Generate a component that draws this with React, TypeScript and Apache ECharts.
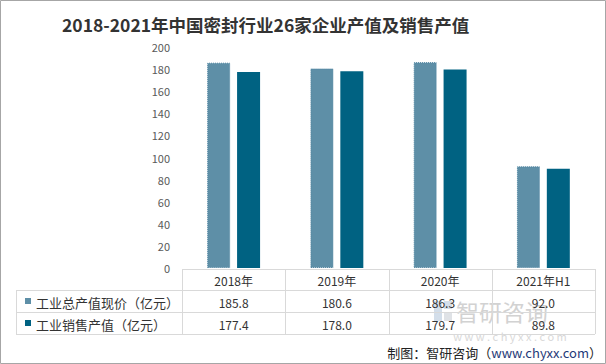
import React, { useEffect, useRef } from "react";
import * as echarts from "echarts";

const categories = ["2018年", "2019年", "2020年", "2021年H1"];
const seriesNames = ["工业总产值现价（亿元）", "工业销售产值（亿元）"];
const totalOutput = [185.8, 180.6, 186.3, 92.0];
const salesOutput = [177.4, 178.0, 179.7, 89.8];
const colors = ["#5E8FA7", "#006282"];
const titleText = "2018-2021年中国密封行业26家企业产值及销售产值";

const W = 606;
const H = 364;
const GL = 182;
const GR = 595;
const GT = 47;
const GB = 268;
const ROWS = [269, 290, 312, 334];
const TABLE_LEFT = 16;
const FONT = "'Noto Sans CJK SC', 'Noto Sans', sans-serif";

export default function App() {
  const ref = useRef<HTMLDivElement>(null);
  useEffect(() => {
    document.body.style.margin = "0";
    const chart = echarts.init(ref.current!, null, { renderer: "svg" });
    const colW = (GR - GL) / categories.length;
    const lineStyle = { stroke: "#D9D9D9", lineWidth: 1 };
    const g: any[] = [];
    // watermark (behind)
    g.push({ type: "rect", z: 1, shape: { x: 434, y: 301, width: 8, height: 20 }, style: { fill: "#D3DEEA" } });
    g.push({ type: "rect", z: 1, shape: { x: 444, y: 301, width: 8, height: 8 }, style: { fill: "#D3DEEA" } });
    g.push({ type: "rect", z: 1, shape: { x: 444, y: 312, width: 8, height: 9 }, style: { fill: "#DFE2E6" } });
    g.push({ type: "text", z: 1, x: 456, y: 311, style: { text: "智研咨询", fill: "#D2D2D2", font: `23px ${FONT}`, align: "left", verticalAlign: "middle" } });
    g.push({ type: "text", z: 1, x: 510, y: 336, style: { text: "w w w . c h y x x . c o m", fill: "#D8D8D8", font: `11px ${FONT}`, align: "center", verticalAlign: "middle" } });
    // outer frame
    g.push({ type: "rect", z: 5, shape: { x: 0.5, y: 0.5, width: W - 1, height: H - 1 }, style: { fill: "none", stroke: "#A6A6A6", lineWidth: 1 }, silent: true });
    // table lines
    g.push({ type: "line", z: 5, shape: { x1: GL, y1: ROWS[0] + 0.5, x2: GR, y2: ROWS[0] + 0.5 }, style: lineStyle });
    for (let r = 1; r < ROWS.length; r++) {
      g.push({ type: "line", z: 5, shape: { x1: TABLE_LEFT, y1: ROWS[r] + 0.5, x2: GR, y2: ROWS[r] + 0.5 }, style: lineStyle });
    }
    g.push({ type: "line", z: 5, shape: { x1: TABLE_LEFT + 0.5, y1: ROWS[1], x2: TABLE_LEFT + 0.5, y2: ROWS[3] }, style: lineStyle });
    for (let i = 0; i <= categories.length; i++) {
      const x = Math.round(GL + i * colW) + 0.5;
      g.push({ type: "line", z: 5, shape: { x1: x, y1: ROWS[0], x2: x, y2: ROWS[3] }, style: lineStyle });
    }
    // header + values
    const rowsData = [totalOutput, salesOutput];
    categories.forEach((c, i) => {
      const cx = GL + (i + 0.5) * colW;
      g.push({ type: "text", z: 10, x: cx, y: (ROWS[0] + ROWS[1]) / 2 + 1, style: { text: c, fill: "#333", font: `12px ${FONT}`, align: "center", verticalAlign: "middle" } });
      rowsData.forEach((arr, r) => {
        g.push({ type: "text", z: 10, x: cx, y: (ROWS[r + 1] + ROWS[r + 2]) / 2 + 1, style: { text: arr[i].toFixed(1), fill: "#333", font: `12px ${FONT}`, align: "center", verticalAlign: "middle" } });
      });
    });
    // legend cells
    seriesNames.forEach((n, r) => {
      const cy = (ROWS[r + 1] + ROWS[r + 2]) / 2;
      g.push({ type: "rect", z: 10, shape: { x: 25, y: cy - 3, width: 6, height: 6 }, style: { fill: colors[r] } });
      g.push({ type: "text", z: 10, x: 36, y: cy + 1, style: { text: n, fill: "#333", font: `13px ${FONT}`, align: "left", verticalAlign: "middle" } });
    });
    // source
    g.push({ type: "text", z: 10, x: 602, y: 352, style: { text: "{a|制图：智研咨询（}{b|www.chyxx.com}{a|）}", align: "right", verticalAlign: "middle", rich: { a: { fill: "#222", font: `13px ${FONT}` }, b: { fill: "#1F3A78", font: `13px ${FONT}` } } } });

    chart.setOption({
      animation: false,
      title: {
        text: titleText,
        left: 57,
        top: 11,
        textStyle: { fontSize: 17.5, fontWeight: "bold", color: "#333", fontFamily: FONT },
      },
      grid: { left: GL, right: W - GR, top: GT, bottom: H - GB, containLabel: false },
      xAxis: {
        type: "category",
        data: categories,
        axisLine: { show: false },
        axisTick: { show: false },
        axisLabel: { show: false },
      },
      yAxis: {
        type: "value",
        min: 0,
        max: 200,
        interval: 20,
        axisLine: { show: false },
        axisTick: { show: false },
        splitLine: { show: false },
        axisLabel: { color: "#595959", fontSize: 11, margin: 12, fontFamily: FONT },
      },
      series: [
        {
          name: seriesNames[0],
          type: "bar",
          data: totalOutput,
          barWidth: 23,
          barGap: "30%",
          itemStyle: { color: colors[0], borderColor: "#4F84A0", borderWidth: 1, borderType: "dotted" },
        },
        {
          name: seriesNames[1],
          type: "bar",
          data: salesOutput,
          barWidth: 23,
          barGap: "30%",
          itemStyle: { color: colors[1] },
        },
      ],
      graphic: g,
    });
    return () => chart.dispose();
  }, []);
  return <div ref={ref} style={{ width: W, height: H }} />;
}
